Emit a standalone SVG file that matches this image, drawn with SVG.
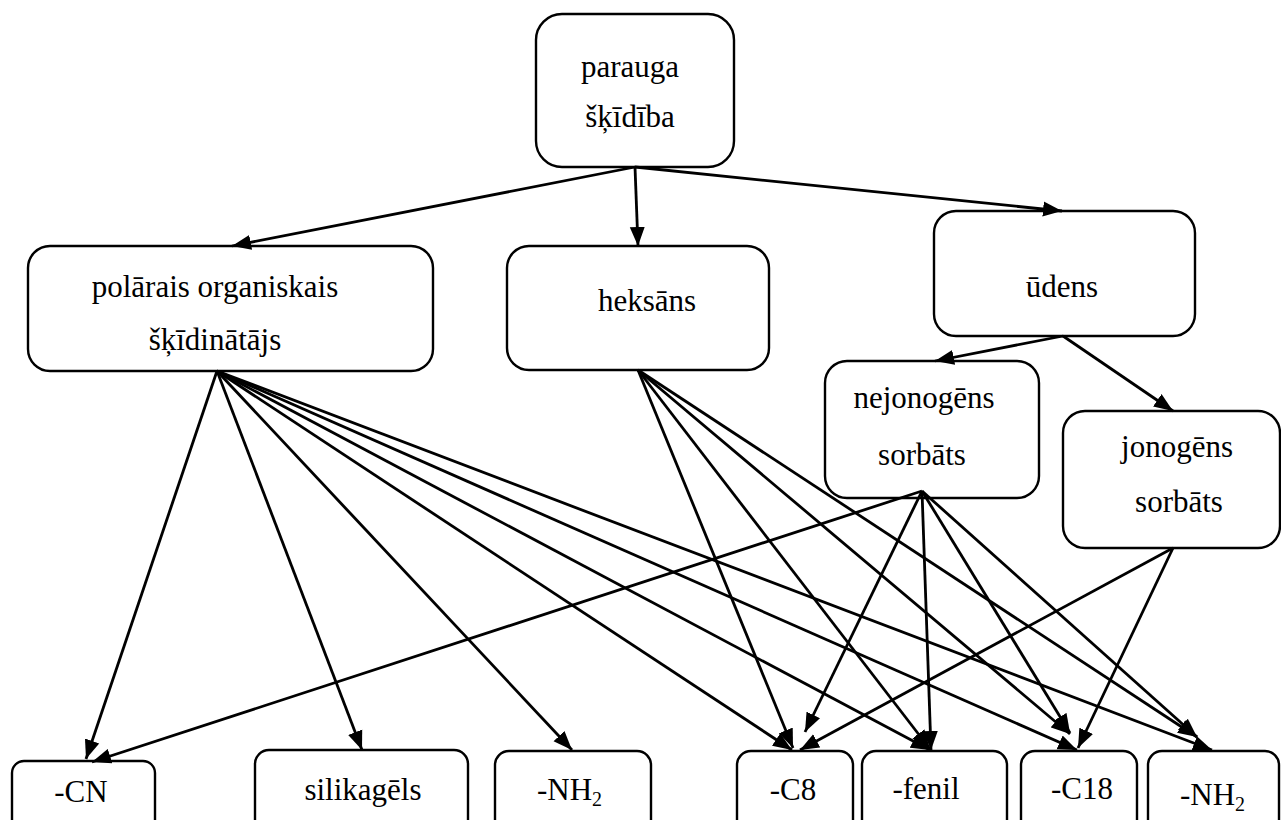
<svg xmlns="http://www.w3.org/2000/svg" width="1281" height="820" viewBox="0 0 1281 820">
<defs>
<marker id="ah" markerUnits="userSpaceOnUse" markerWidth="22" markerHeight="16" refX="19" refY="8" orient="auto">
<path d="M0,0.5 L19,8 L0,15.5 z" fill="#000"/>
</marker>
<style>
.box{fill:#fff;stroke:#000;stroke-width:2.4}
text{font-family:Liberation Serif,Times New Roman,Times,serif;font-size:31px;fill:#000}
.t{text-anchor:middle}
.sub{font-size:20px}
.c line{stroke:#000;stroke-width:2.8;marker-end:url(#ah)}
</style>
</defs>
<rect width="1281" height="820" fill="#fff"/>
<g id="n-top"><rect class="box" x="536" y="14" width="198" height="153" rx="26"/><text class="t" x="630" y="77">parauga</text><text class="t" x="630" y="127">šķīdība</text></g>
<g id="n-polar"><rect class="box" x="28" y="246" width="405" height="125" rx="22"/><text class="t" x="215" y="297">polārais organiskais</text><text class="t" x="215" y="350">šķīdinātājs</text></g>
<g id="n-heks"><rect class="box" x="507" y="246" width="262" height="124" rx="22"/><text class="t" x="647" y="311">heksāns</text></g>
<g id="n-udens"><rect class="box" x="934" y="211" width="261" height="125" rx="22"/><text class="t" x="1062" y="297">ūdens</text></g>
<g id="n-nejon"><rect class="box" x="825" y="361" width="214" height="137" rx="22"/><text class="t" x="924" y="408">nejonogēns</text><text class="t" x="922" y="465">sorbāts</text></g>
<g id="n-jon"><rect class="box" x="1063" y="411" width="217" height="137" rx="22"/><text class="t" x="1177" y="457">jonogēns</text><text class="t" x="1179" y="512">sorbāts</text></g>
<g id="n-cn"><rect class="box" x="12" y="761" width="143" height="90" rx="12"/><text class="t" x="81" y="802">-CN</text></g>
<g id="n-silika"><rect class="box" x="255" y="750" width="213" height="100" rx="14"/><text class="t" x="363" y="800">silikagēls</text></g>
<g id="n-nh2a"><rect class="box" x="495" y="751" width="156" height="100" rx="14"/><text x="537" y="800">-NH<tspan class="sub" dy="6">2</tspan></text></g>
<g id="n-c8"><rect class="box" x="737" y="751" width="116" height="100" rx="14"/><text class="t" x="793" y="800">-C8</text></g>
<g id="n-fenil"><rect class="box" x="862" y="751" width="145" height="100" rx="14"/><text class="t" x="926" y="799">-fenil</text></g>
<g id="n-c18"><rect class="box" x="1021" y="751" width="116" height="100" rx="14"/><text class="t" x="1082" y="799">-C18</text></g>
<g id="n-nh2b"><rect class="box" x="1148" y="751" width="131" height="100" rx="14"/><text x="1180" y="805">-NH<tspan class="sub" dy="6">2</tspan></text></g>
<g id="connectors" class="c">
<line x1="635" y1="167" x2="232" y2="246"/>
<line x1="635" y1="167" x2="638" y2="246"/>
<line x1="635" y1="167" x2="1062" y2="211"/>
<line x1="1063" y1="336" x2="935" y2="361"/>
<line x1="1063" y1="336" x2="1173" y2="411"/>
<line x1="217" y1="371" x2="86" y2="759"/>
<line x1="217" y1="371" x2="362" y2="750"/>
<line x1="217" y1="371" x2="572" y2="750"/>
<line x1="217" y1="371" x2="792" y2="750"/>
<line x1="217" y1="371" x2="930" y2="750"/>
<line x1="217" y1="371" x2="1077" y2="750"/>
<line x1="217" y1="371" x2="1212" y2="750"/>
<line x1="638" y1="370" x2="793" y2="748"/>
<line x1="638" y1="370" x2="930" y2="749"/>
<line x1="638" y1="370" x2="1070" y2="734"/>
<line x1="638" y1="370" x2="1197" y2="737"/>
<line x1="922" y1="491" x2="92" y2="762"/>
<line x1="922" y1="491" x2="805" y2="732"/>
<line x1="922" y1="491" x2="931" y2="750"/>
<line x1="922" y1="491" x2="1070" y2="733"/>
<line x1="922" y1="491" x2="1197" y2="737"/>
<line x1="1173" y1="548" x2="800" y2="750"/>
<line x1="1173" y1="548" x2="1078" y2="748"/>
</g>
</svg>
